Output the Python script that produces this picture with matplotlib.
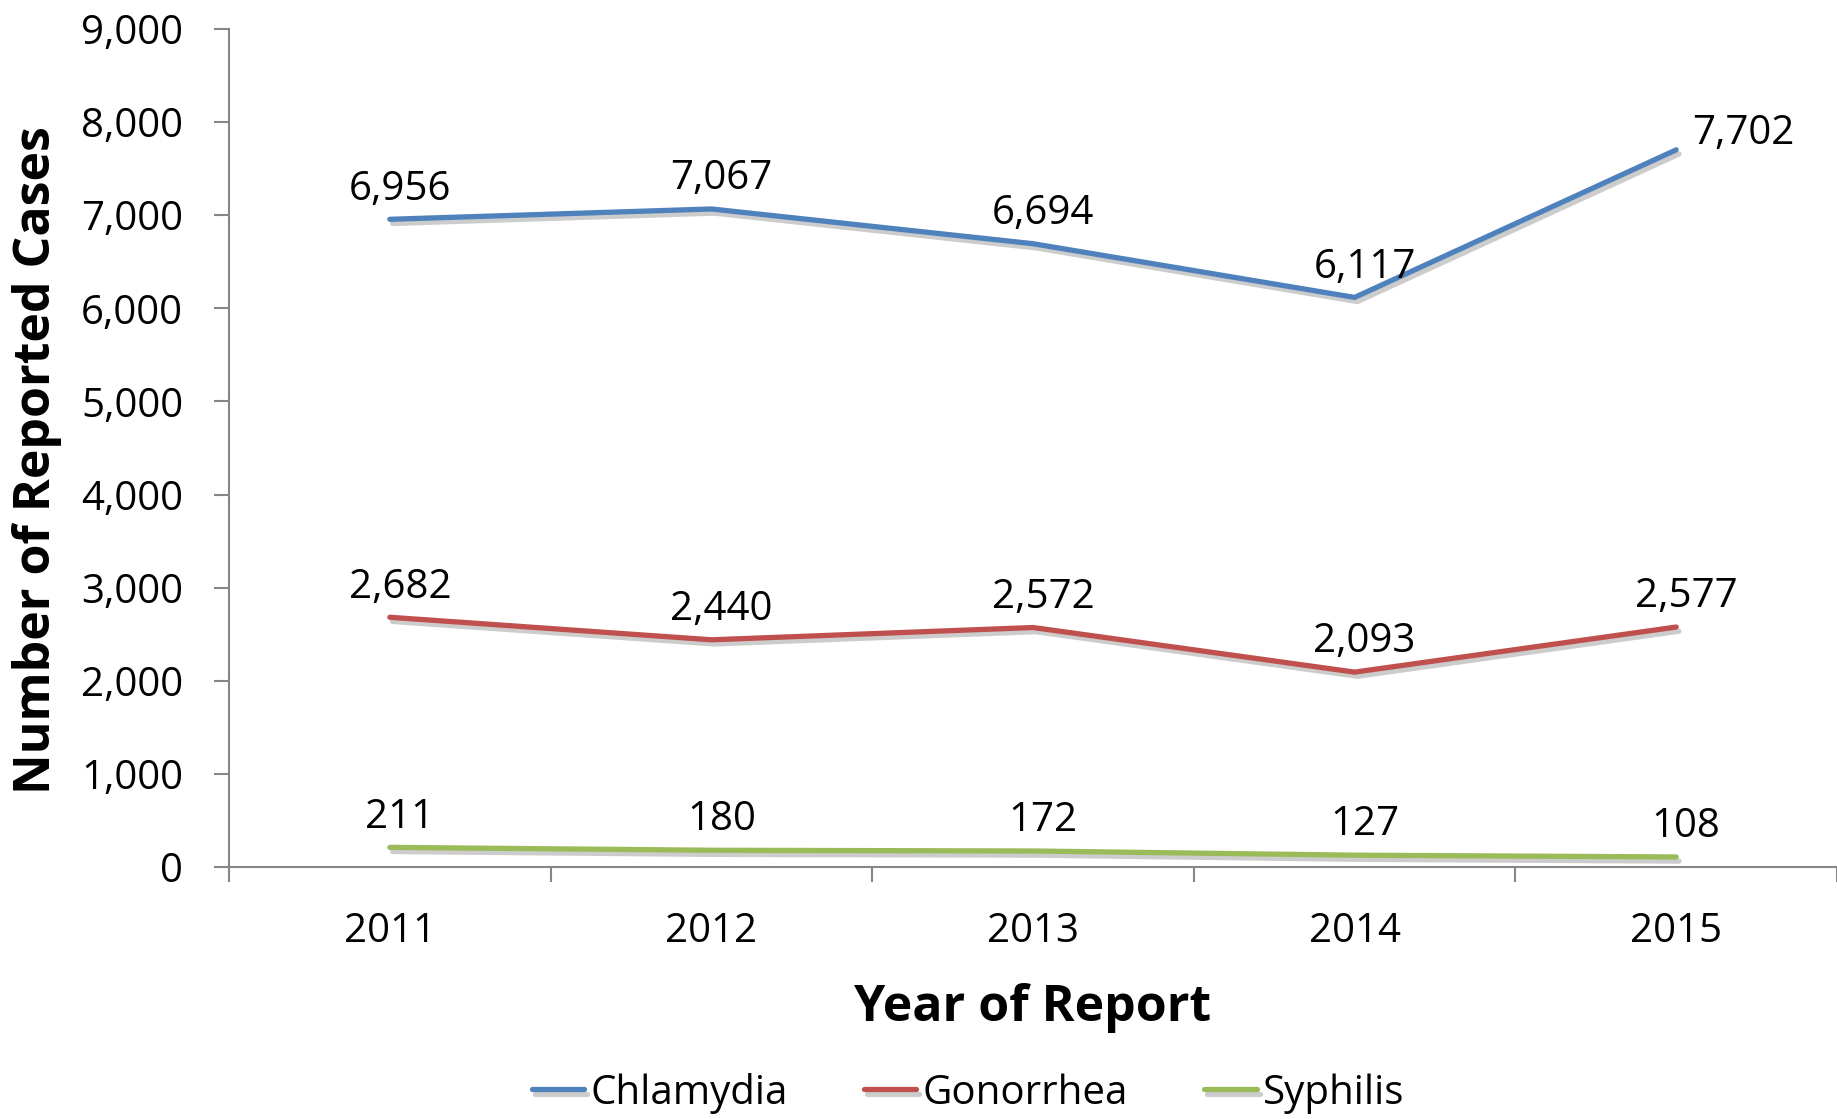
import matplotlib
matplotlib.use("Agg")
import matplotlib.pyplot as plt
import matplotlib.patheffects as pe
from matplotlib.ticker import FuncFormatter, FixedLocator, NullFormatter

plt.rcParams['font.family'] = ['Open Sans', 'DejaVu Sans']

years = ["2011", "2012", "2013", "2014", "2015"]
chlamydia = [6956, 7067, 6694, 6117, 7702]
gonorrhea = [2682, 2440, 2572, 2093, 2577]
syphilis = [211, 180, 172, 127, 108]
series_names = ["Chlamydia", "Gonorrhea", "Syphilis"]
colors = ["#4F81BD", "#C0504D", "#9BBB59"]

fig = plt.figure(figsize=(18.37, 11.19), dpi=100)
ax = fig.add_axes([0.1247, 0.2252, 0.8753, 0.7489])

x = list(range(len(years)))
shadow = [pe.SimpleLineShadow(offset=(2, -3), alpha=0.2, shadow_color='black'), pe.Normal()]
handles = []
for name, vals, col in zip(series_names, [chlamydia, gonorrhea, syphilis], colors):
    h, = ax.plot(x, vals, color=col, lw=3.8, solid_capstyle='round',
                 solid_joinstyle='round', path_effects=shadow, label=name, zorder=3)
    handles.append(h)
    for i, v in enumerate(vals):
        if name == "Chlamydia" and i == len(vals) - 1:
            ax.annotate(f"{v:,}", (i, v), xytext=(16, 16), textcoords='offset pixels',
                        ha='left', va='center', fontsize=29, color='black')
        else:
            ax.annotate(f"{v:,}", (i, v), xytext=(10, 30), textcoords='offset pixels',
                        ha='center', va='center', fontsize=29, color='black')

ax.set_xlim(-0.5, len(years) - 0.5)
ax.set_ylim(0, 9000)
ax.set_yticks(range(0, 9001, 1000))
ax.yaxis.set_major_formatter(FuncFormatter(lambda v, p: f"{int(v):,}"))

ax.xaxis.set_major_locator(FixedLocator([i - 0.5 for i in range(len(years) + 1)]))
ax.xaxis.set_major_formatter(NullFormatter())
ax.set_xticks(x, minor=True)
ax.set_xticklabels(years, minor=True)
ax.tick_params(axis='x', which='minor', length=0, pad=32, labelsize=29)
ax.tick_params(axis='x', which='major', length=11, width=1.5, color='#868686', direction='out')
ax.tick_params(axis='y', length=11, width=1.5, color='#868686', pad=22, labelsize=29)

for s in ['top', 'right']:
    ax.spines[s].set_visible(False)
for s in ['left', 'bottom']:
    ax.spines[s].set_color('#868686')
    ax.spines[s].set_linewidth(1.5)

ax.set_xlabel("Year of Report", fontsize=36, fontweight='bold')
ax.xaxis.set_label_coords(0.5, -0.138)
fig.text(37 / 1837, 1 - 460 / 1119, "Number of Reported Cases", rotation=90,
         ha='center', va='center', fontsize=36, fontweight='bold')

fig.legend(handles=handles, labels=series_names, loc='center',
           bbox_to_anchor=(968 / 1837, 1 - 1093 / 1119), ncol=3, frameon=False,
           fontsize=29, handlelength=1.3, handletextpad=0.15, columnspacing=1.9)

fig.savefig("out.png", dpi=100)
